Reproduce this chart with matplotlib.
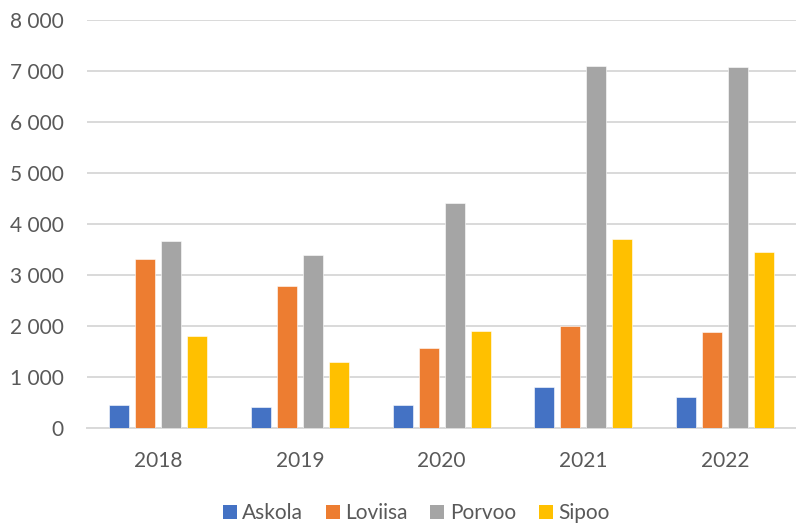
import matplotlib
matplotlib.use("Agg")
import matplotlib.pyplot as plt
import numpy as np
from matplotlib.patches import Patch
from matplotlib.ticker import FuncFormatter

years = ["2018", "2019", "2020", "2021", "2022"]
series = ["Askola", "Loviisa", "Porvoo", "Sipoo"]
askola = [440, 400, 440, 805, 600]
loviisa = [3310, 2780, 1565, 1990, 1875]
porvoo = [3665, 3390, 4405, 7105, 7080]
sipoo = [1795, 1290, 1900, 3700, 3440]
colors = ["#4472C4", "#ED7D31", "#A5A5A5", "#FFC000"]

plt.rcParams["font.family"] = ["Lato", "DejaVu Sans"]
txt = "#595959"

fig = plt.figure(figsize=(7.96, 5.23), dpi=100)
ax = fig.add_axes([87.3 / 796, 1 - 427.7 / 523, 1 - 87.3 / 796, (427.7 - 20) / 523])

x = np.arange(len(years))
pitch = 0.1835
width = 0.141
for i, (vals, c) in enumerate(zip([askola, loviisa, porvoo, sipoo], colors)):
    ax.bar(x + (i - 1.5) * pitch, vals, width, color=c, edgecolor="white",
           linewidth=0.4, zorder=3)

ax.set_xlim(-0.5, len(years) - 0.5)
ax.set_ylim(0, 8000)
ax.set_yticks(range(0, 8001, 1000))
ax.yaxis.set_major_formatter(FuncFormatter(lambda v, p: f"{int(v):,}".replace(",", " ")))
ax.set_xticks(x)
ax.set_xticklabels(years)
ax.grid(axis="y", color="#D9D9D9", linewidth=1.4, zorder=0)
for s in ["top", "right", "left"]:
    ax.spines[s].set_visible(False)
ax.spines["bottom"].set_color("#D9D9D9")
ax.spines["bottom"].set_linewidth(1.4)
ax.tick_params(axis="both", length=0, labelsize=15, labelcolor=txt)
ax.tick_params(axis="y", pad=17)
ax.tick_params(axis="x", pad=17)

handles = [Patch(facecolor=c, label=s) for s, c in zip(series, colors)]
fig.legend(handles=handles, loc="center", bbox_to_anchor=(416 / 796, 1 - 513 / 523),
           ncol=4, frameon=False, fontsize=15, labelcolor=txt,
           handlelength=0.67, handleheight=0.67, handletextpad=0.25,
           columnspacing=1.1, borderpad=0, borderaxespad=0)

fig.savefig("out.png", dpi=100)
